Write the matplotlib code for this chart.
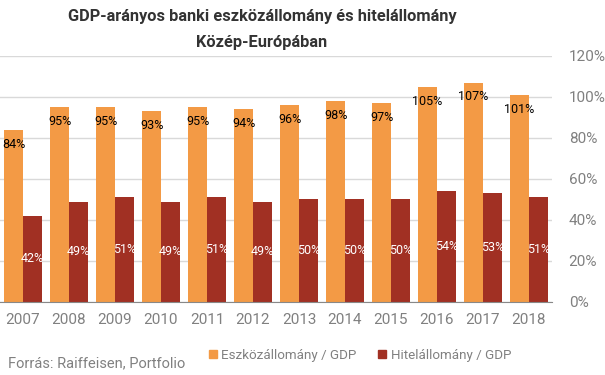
import numpy as np
import matplotlib.pyplot as plt
from matplotlib.patches import Patch

plt.rcParams['font.family'] = ['Roboto', 'DejaVu Sans']

years = ['2007', '2008', '2009', '2010', '2011', '2012', '2013', '2014', '2015', '2016', '2017', '2018']
assets = [84, 95, 95, 93, 95, 94, 96, 98, 97, 105, 107, 101]
loans = [42, 49, 51, 49, 51, 49, 50, 50, 50, 54, 53, 51]

ORANGE = '#F39A45'
DARK = '#A13023'

fig = plt.figure(figsize=(6.05, 3.75), dpi=100)
ax = fig.add_axes([0.0, 0.1947, 552 / 605, 0.656])

x = np.arange(len(years))
w = 0.41
ax.bar(x - w / 2, assets, w, color=ORANGE, zorder=2)
ax.bar(x + w / 2, loans, w, color=DARK, zorder=2)

for i in range(len(years)):
    ax.text(x[i] - w / 2, assets[i] - 7, f'{assets[i]}%', ha='center', va='center',
            fontsize=9, color='black', zorder=3)
    ax.text(x[i] + w / 2, loans[i] / 2, f'{loans[i]}%', ha='center', va='center',
            fontsize=9, color='white', zorder=3)

ax.set_xlim(-0.5, len(years) - 0.5)
ax.set_ylim(0, 120)
ax.yaxis.tick_right()
ax.set_yticks(range(0, 121, 20))
ax.set_yticklabels([f'{v}%' for v in range(0, 121, 20)])
ax.set_xticks(x)
ax.set_xticklabels(years)
ax.tick_params(axis='both', length=0, labelsize=11, colors='#808080')
ax.tick_params(axis='y', pad=12)
ax.tick_params(axis='x', pad=8)
ax.grid(axis='y', color='#d9d9d9', linewidth=1, zorder=0)
for s in ['top', 'left', 'right']:
    ax.spines[s].set_visible(False)
ax.spines['bottom'].set_color('#888888')
ax.spines['bottom'].set_zorder(4)

# title, two lines
fig.text(262 / 605, 1 - 17 / 375, 'GDP-arányos banki eszközállomány és hitelállomány',
         ha='center', va='center', fontsize=11.8, fontweight='bold', color='#333333')
fig.text(262 / 605, 1 - 42 / 375, 'Közép-Európában',
         ha='center', va='center', fontsize=11.8, fontweight='bold', color='#333333')

fig.text(8 / 605, 1 - 363 / 375, 'Forrás: Raiffeisen, Portfolio', ha='left', va='center',
         fontsize=10.5, color='#808080')

handles = [Patch(color=ORANGE, label='Eszközállomány / GDP'),
           Patch(color=DARK, label='Hitelállomány / GDP')]
leg = fig.legend(handles=handles, loc='center', bbox_to_anchor=(360 / 605, 1 - 355 / 375),
                 ncol=2, frameon=False, fontsize=9.6, handlelength=0.6, handleheight=0.6,
                 handletextpad=0.35, columnspacing=1.6)
for t in leg.get_texts():
    t.set_color('#808080')

fig.savefig('out.png', dpi=100)
